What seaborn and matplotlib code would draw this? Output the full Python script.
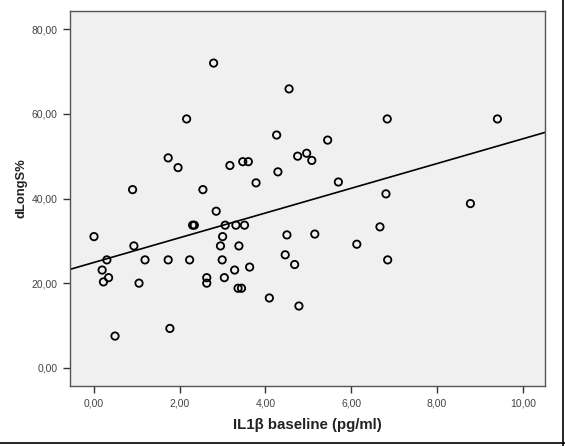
import matplotlib
matplotlib.use("Agg")
import matplotlib.pyplot as plt
import seaborn as sns
import pandas as pd
from matplotlib.ticker import FuncFormatter, MultipleLocator
from matplotlib.lines import Line2D

# valores
il1b = [2.79, 4.55, 2.16, 4.26, 1.73, 1.96, 3.17, 3.47, 3.60, 4.29,
        4.75, 4.96, 5.08, 3.78, 0.90, 2.54, 2.85, 6.84, 9.41, 5.45,
        5.70, 6.81, 8.78, 2.30, 2.34, 3.06, 3.31, 3.51, 0.00, 3.00,
        4.50, 5.15, 0.93, 2.95, 3.38, 0.30, 1.19, 1.73, 2.23, 2.99,
        4.46, 4.68, 3.63, 3.28, 0.19, 0.22, 0.34, 1.05, 2.63, 2.63,
        3.04, 3.36, 3.44, 4.09, 4.78, 1.77, 0.49, 6.67, 6.13, 6.85]
dlongs = [72.0, 65.9, 58.8, 55.0, 49.6, 47.3, 47.8, 48.7, 48.7, 46.3,
          50.0, 50.7, 49.0, 43.7, 42.1, 42.1, 37.0, 58.8, 58.8, 53.8,
          43.9, 41.1, 38.8, 33.7, 33.7, 33.7, 33.7, 33.7, 31.0, 31.0,
          31.4, 31.6, 28.8, 28.8, 28.8, 25.5, 25.5, 25.5, 25.5, 25.5,
          26.7, 24.4, 23.8, 23.1, 23.1, 20.3, 21.3, 20.0, 21.3, 20.0,
          21.3, 18.8, 18.8, 16.5, 14.6, 9.3, 7.5, 33.3, 29.2, 25.5]

# recta de ajuste tal como aparece en el grafico original
ajuste_intercepto = 24.9
ajuste_pendiente = 2.92

df = pd.DataFrame({"IL1b": il1b, "dLongS": dlongs})

sns.set_style("white")
plt.rcParams['font.family'] = ['Liberation Sans', 'DejaVu Sans']

fig = plt.figure(figsize=(5.65, 4.46), dpi=100)
ax = fig.add_axes([0.1239, 0.1345, 0.8407, 0.8408])
ax.set_facecolor("#f0f0f0")

sns.scatterplot(data=df, x="IL1b", y="dLongS", ax=ax, marker="o", s=28,
                facecolor="none", edgecolor="black", linewidth=1.3, zorder=3)
ax.axline((0, ajuste_intercepto), slope=ajuste_pendiente, color="black",
          linewidth=1.2, zorder=2)

ax.set_xlim(-0.56, 10.52)
ax.set_ylim(-4.3, 84.3)

coma = FuncFormatter(lambda v, p: f"{v:.2f}".replace(".", ","))
ax.xaxis.set_major_locator(MultipleLocator(2))
ax.yaxis.set_major_locator(MultipleLocator(20))
ax.xaxis.set_major_formatter(coma)
ax.yaxis.set_major_formatter(coma)

for s in ax.spines.values():
    s.set_color("#555555")
    s.set_linewidth(1.0)

ax.tick_params(axis="both", direction="out", length=5, width=1.0,
               color="#333333", labelsize=7.5, labelcolor="#444444",
               bottom=True, left=True, pad=4)

ax.set_xlabel("IL1β baseline (pg/ml)", fontsize=10.8, fontweight="bold",
              color="#222222", labelpad=7)
ax.set_ylabel("dLongS%", fontsize=9.4, fontweight="bold", color="#222222")
ax.yaxis.set_label_coords(-0.0905, 0.527)

# marco exterior (derecha y abajo)
fig.add_artist(Line2D([0.9965, 0.9965], [0.0, 1.0], transform=fig.transFigure,
                      color="black", linewidth=1.2))
fig.add_artist(Line2D([0.0, 1.0], [0.0065, 0.0065], transform=fig.transFigure,
                      color="black", linewidth=1.2))

fig.savefig("out.png", dpi=100)
